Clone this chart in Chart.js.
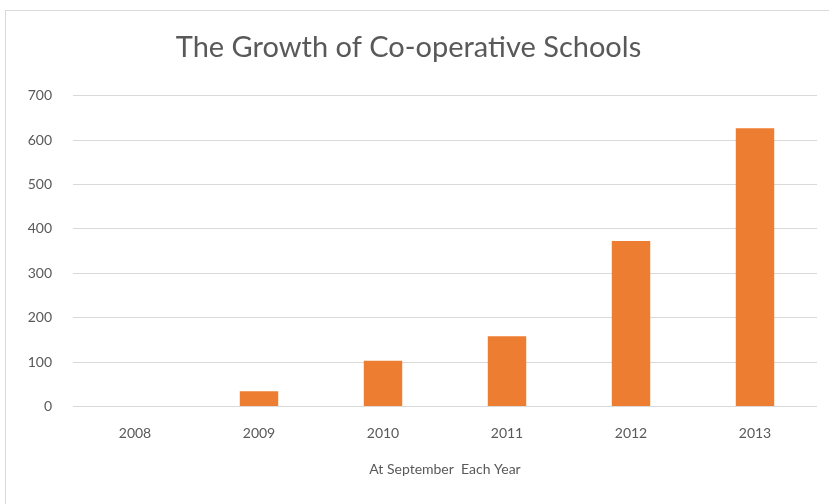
<!DOCTYPE html>
<html>
<head>
<meta charset="utf-8">
<script src="https://cdn.jsdelivr.net/npm/chart.js@4/dist/chart.umd.min.js"></script>
<style>
  html, body { margin: 0; padding: 0; background: #fff; }
  #wrap { position: relative; width: 829px; height: 504px; overflow: hidden; }
  #frame { position: absolute; left: 5px; top: 10px; width: 900px; height: 600px; border: 1px solid #d9d9d9; box-sizing: border-box; }
  #chart { position: absolute; left: 0; top: 0; }
</style>
</head>
<body>
<div id="wrap">
  <div id="frame"></div>
  <canvas id="chart" width="829" height="504"></canvas>
</div>
<script>
const years = ['2008', '2009', '2010', '2011', '2012', '2013'];
const schools = [0, 34, 103, 158, 373, 627];
const yTicks = [0, 100, 200, 300, 400, 500, 600, 700];

const textColor = '#595959';
const font = 'Lato, "Open Sans", sans-serif';

new Chart(document.getElementById('chart'), {
  type: 'bar',
  data: {
    labels: years,
    datasets: [{ label: 'Schools', data: schools, backgroundColor: '#ed7d31', categoryPercentage: 1, barPercentage: 0.31 }]
  },
  options: {
    responsive: false,
    animation: false,
    layout: { padding: { left: 0, right: 12, top: 0, bottom: 0 } },
    plugins: {
      legend: { display: false },
      tooltip: { enabled: false },
      title: {
        display: true,
        text: 'The Growth of Co-operative Schools',
        color: textColor,
        font: { family: font, size: 29, weight: 'normal' },
        padding: { top: 30.5, bottom: 30.5 }
      }
    },
    scales: {
      x: {
        grid: { display: false, drawTicks: false },
        border: { display: false },
        ticks: { color: textColor, font: { family: font, size: 14 }, padding: 19 },
        title: { display: true, text: 'At September  Each Year', color: textColor, font: { family: font, size: 14 }, padding: { top: 0, bottom: 26 } }
      },
      y: {
        min: 0,
        max: 700,
        afterFit: scale => { scale.width = 73; },
        afterBuildTicks: scale => { scale.ticks = yTicks.map(v => ({ value: v })); },
        grid: { color: '#d9d9d9', lineWidth: 1, drawTicks: false },
        border: { display: false },
        ticks: { color: textColor, font: { family: font, size: 14 }, padding: 21 }
      }
    }
  }
});
</script>
</body>
</html>
